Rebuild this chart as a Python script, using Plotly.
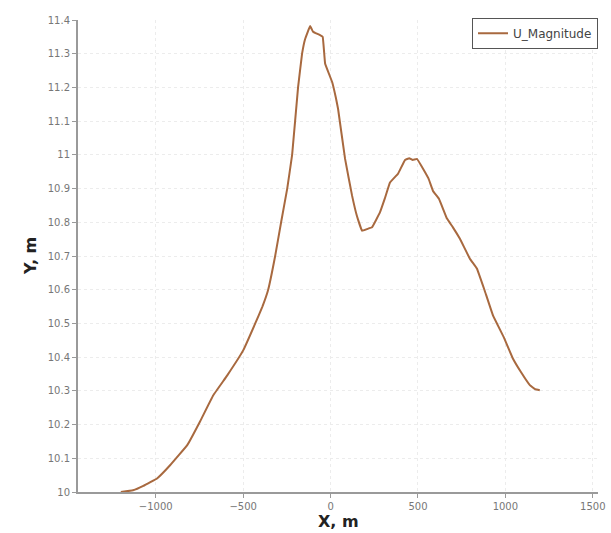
import plotly.graph_objects as go

# Data
x_m = [-1200, -1130, -1071, -991, -917, -820, -746, -671, -591, -500, -431, -390, -357,
       -317, -283, -248, -220, -186, -163, -146, -117, -100, -89, -60, -45, -31, 9, 30,
       43, 83, 123, 150, 180, 210, 237, 283, 310, 340, 386, 426, 450, 470, 494, 529,
       560, 586, 620, 666, 700, 740, 797, 837, 880, 929, 990, 1043, 1090, 1140, 1170,
       1197]
u_mag = [10.0, 10.005, 10.018, 10.041, 10.080, 10.139, 10.210, 10.287, 10.346, 10.420,
         10.50, 10.55, 10.60, 10.70, 10.80, 10.90, 11.00, 11.20, 11.30, 11.343, 11.382,
         11.365, 11.362, 11.355, 11.35, 11.27, 11.216, 11.17, 11.136, 10.988, 10.879,
         10.82, 10.775, 10.78, 10.785, 10.83, 10.87, 10.918, 10.944, 10.985, 10.99,
         10.985, 10.988, 10.959, 10.93, 10.893, 10.87, 10.811, 10.785, 10.751, 10.692,
         10.663, 10.6, 10.524, 10.46, 10.396, 10.355, 10.317, 10.305, 10.302]

x_ticks = [-1000, -500, 0, 500, 1000, 1500]
y_ticks = [10, 10.1, 10.2, 10.3, 10.4, 10.5, 10.6, 10.7, 10.8, 10.9, 11, 11.1, 11.2, 11.3, 11.4]
y_tick_text = ["10", "10.1", "10.2", "10.3", "10.4", "10.5", "10.6", "10.7", "10.8",
               "10.9", "11", "11.1", "11.2", "11.3", "11.4"]

fig = go.Figure()
fig.add_trace(go.Scatter(
    x=x_m, y=u_mag, mode="lines", name="U_Magnitude",
    line=dict(color="#a8693f", width=2, shape="spline", smoothing=0.2),
))

axis_common = dict(
    showline=True, linecolor="#9a9a9a", linewidth=2,
    ticks="outside", ticklen=4, tickcolor="#9a9a9a", tickwidth=1,
    showgrid=True, gridcolor="#ececec", griddash="dot", gridwidth=1,
    zeroline=False, automargin=False,
    tickfont=dict(family="DejaVu Sans", size=10, color="#777777"),
)

title_font = dict(family="DejaVu Sans", size=16, color="#222222")

fig.update_layout(
    width=611, height=533,
    margin=dict(l=78, r=13, t=20, b=41),
    paper_bgcolor="white", plot_bgcolor="white",
    showlegend=True,
    legend=dict(
        x=1.0, y=1.005, xanchor="right", yanchor="top",
        bordercolor="#555555", borderwidth=1, bgcolor="white",
        font=dict(family="DejaVu Sans", size=12, color="#444444"),
        itemwidth=30, tracegroupgap=0,
    ),
    xaxis=dict(range=[-1445, 1530], tickvals=x_ticks, **axis_common),
    yaxis=dict(range=[10, 11.4], tickvals=y_ticks, ticktext=y_tick_text, **axis_common),
    annotations=[
        dict(text="<b>X, m</b>", xref="paper", yref="paper", x=0.5, y=0,
             xanchor="center", yanchor="top", yshift=-18, showarrow=False,
             font=title_font),
        dict(text="<b>Y, m</b>", xref="paper", yref="paper", x=0, y=0.5,
             xanchor="center", yanchor="middle", xshift=-48, textangle=-90,
             showarrow=False, font=title_font),
    ],
)

fig.write_html("out.html")
